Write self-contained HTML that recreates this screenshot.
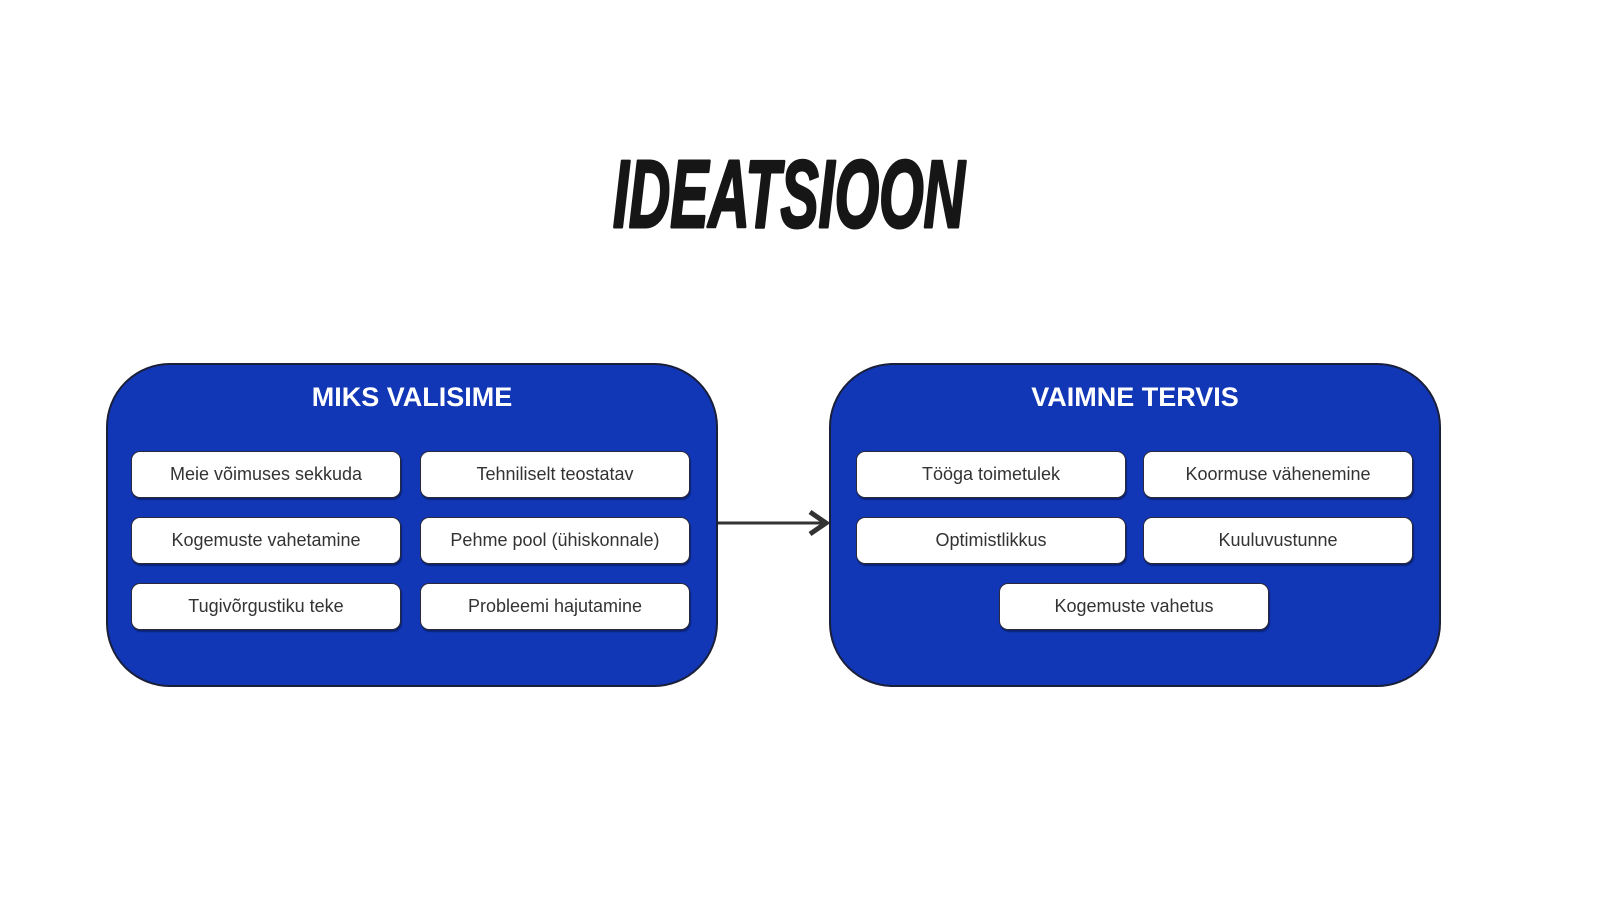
<!DOCTYPE html>
<html><head><meta charset="utf-8"><style>
body{margin:0;width:1600px;height:900px;background:#fff;position:relative;overflow:hidden;font-family:"Liberation Sans",sans-serif}
.box{position:absolute;top:363px;width:608px;height:320px;background:#1136b6;border:2px solid #1a1f3a;border-radius:64px;box-sizing:content-box}
.h{position:absolute;top:382px;color:#fff;font-weight:bold;font-size:27px;text-align:center;width:612px}
.p{position:absolute;width:270px;height:47px;background:#fff;border:1.5px solid #2a2a3a;border-radius:9px;box-sizing:border-box;display:flex;align-items:center;justify-content:center;font-size:18px;color:#333;box-shadow:1px 2px 1px rgba(0,0,0,.35)}
</style></head><body>
<svg style="position:absolute;left:0;top:0" width="1600" height="900">
<text x="613" y="227" font-family="Liberation Sans" font-weight="bold" font-style="italic" font-size="96" textLength="352" lengthAdjust="spacingAndGlyphs" fill="#161616" stroke="#161616" stroke-width="3" stroke-linejoin="round">IDEATSIOON</text>
<line x1="718" y1="523" x2="822" y2="523" stroke="#333" stroke-width="3"/>
<polyline points="810,512 826,523 810,534" fill="none" stroke="#333" stroke-width="5" stroke-linejoin="miter"/>
</svg>
<div class="box" style="left:106px"></div>
<div class="box" style="left:829px"></div>
<div class="h" style="left:106px">MIKS VALISIME</div>
<div class="h" style="left:829px">VAIMNE TERVIS</div>
<div class="p" style="left:131px;top:451px">Meie võimuses sekkuda</div>
<div class="p" style="left:420px;top:451px">Tehniliselt teostatav</div>
<div class="p" style="left:131px;top:517px">Kogemuste vahetamine</div>
<div class="p" style="left:420px;top:517px">Pehme pool (ühiskonnale)</div>
<div class="p" style="left:131px;top:583px">Tugivõrgustiku teke</div>
<div class="p" style="left:420px;top:583px">Probleemi hajutamine</div>
<div class="p" style="left:856px;top:451px">Tööga toimetulek</div>
<div class="p" style="left:1143px;top:451px">Koormuse vähenemine</div>
<div class="p" style="left:856px;top:517px">Optimistlikkus</div>
<div class="p" style="left:1143px;top:517px">Kuuluvustunne</div>
<div class="p" style="left:999px;top:583px">Kogemuste vahetus</div>
</body></html>
